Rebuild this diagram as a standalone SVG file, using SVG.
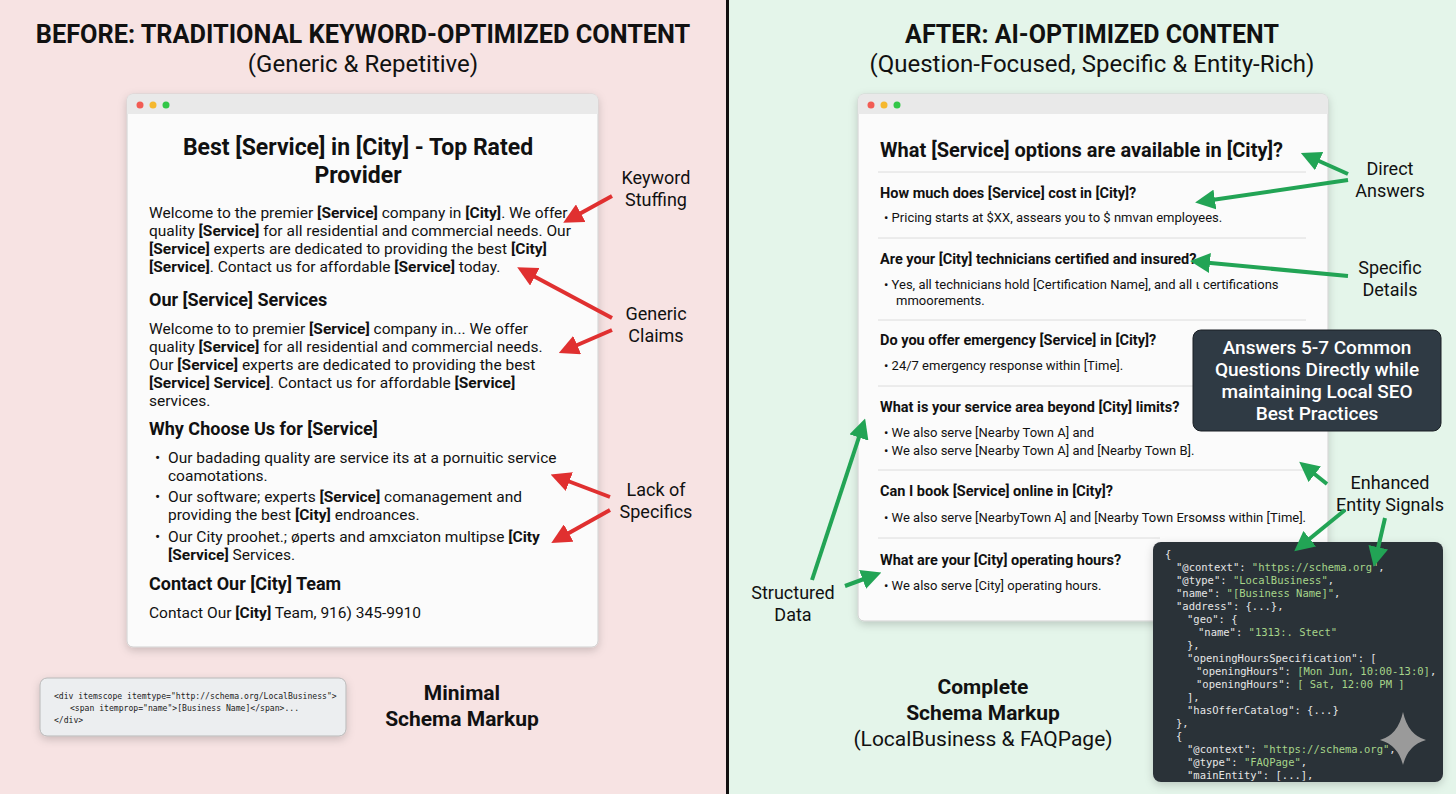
<svg xmlns="http://www.w3.org/2000/svg" width="1456" height="794" viewBox="0 0 1456 794">
<style>
text{font-family:Roboto,"Liberation Sans",sans-serif;fill:#111}
.h{font-size:33px;font-weight:700}
.sub{font-size:24px}
.b{font-size:15.5px}
.s{font-size:13px}
.q{font-size:14.5px;font-weight:700}
.hd{font-size:18px;font-weight:700}
.lab{font-size:18px;text-anchor:middle}
.code{font-family:"DejaVu Sans Mono","Liberation Mono",monospace;font-size:10.5px;fill:#e6e6e6}
.str{fill:#a7d58a}
.win{fill:#fbfbfb;stroke:#d0d0d0;stroke-width:1}
.bar{fill:#e9e9e9}
.sep{stroke:#dcdcdc;stroke-width:1}
.ra{stroke:#e03030;stroke-width:4;fill:none;marker-end:url(#mr)}
.ga{stroke:#22a455;stroke-width:4;fill:none;marker-end:url(#mg)}
</style>
<defs>
<marker id="mr" markerWidth="5" markerHeight="5" refX="2.5" refY="2.5" orient="auto"><path d="M0,0L5,2.5L0,5z" fill="#e03030"/></marker>
<marker id="mg" markerWidth="5" markerHeight="5" refX="2.5" refY="2.5" orient="auto"><path d="M0,0L5,2.5L0,5z" fill="#22a455"/></marker>
<filter id="sh" x="-10%" y="-10%" width="120%" height="130%"><feDropShadow dx="0" dy="3" stdDeviation="4" flood-opacity="0.18"/></filter>
</defs>
<rect x="0" y="0" width="728" height="794" fill="#f7e3e3"/>
<rect x="728" y="0" width="728" height="794" fill="#e4f5ea"/>
<rect x="726" y="0" width="3" height="794" fill="#111"/>

<g id="left-title">
<text x="363" y="43" class="h" text-anchor="middle" style="font-size:25.3px">BEFORE: TRADITIONAL KEYWORD-OPTIMIZED CONTENT</text>
<text x="363" y="72" class="sub" text-anchor="middle">(Generic &amp; Repetitive)</text>
</g>
<g id="right-title">
<text x="1092" y="43" class="h" text-anchor="middle" style="font-size:25px">AFTER: AI-OPTIMIZED CONTENT</text>
<text x="1092" y="72" class="sub" text-anchor="middle">(Question-Focused, Specific &amp; Entity-Rich)</text>
</g>

<g id="left-window">
<rect x="127" y="94" width="471" height="553" rx="6" class="win" filter="url(#sh)"/>
<path d="M133,94h459a6,6 0 0 1 6,6v14h-471v-14a6,6 0 0 1 6,-6z" class="bar"/>
<circle cx="140" cy="105" r="3.5" fill="#f25c54"/><circle cx="153" cy="105" r="3.5" fill="#f5b82e"/><circle cx="166" cy="105" r="3.5" fill="#33c748"/>
<text x="358" y="155" text-anchor="middle" style="font-size:23px;font-weight:700">Best [Service] in [City] - Top Rated</text>
<text x="358" y="183" text-anchor="middle" style="font-size:23px;font-weight:700">Provider</text>
<text class="b"><tspan x="149" y="218">Welcome to the premier <tspan font-weight="700">[Service]</tspan> company in <tspan font-weight="700">[City]</tspan>. We offer</tspan><tspan x="149" y="236">quality <tspan font-weight="700">[Service]</tspan> for all residential and commercial needs. Our</tspan><tspan x="149" y="254"><tspan font-weight="700">[Service]</tspan> experts are dedicated to providing the best <tspan font-weight="700">[City]</tspan></tspan><tspan x="149" y="272"><tspan font-weight="700">[Service]</tspan>. Contact us for affordable <tspan font-weight="700">[Service]</tspan> today.</tspan></text>
<text x="149" y="306" class="hd">Our [Service] Services</text>
<text class="b"><tspan x="149" y="334">Welcome to to premier <tspan font-weight="700">[Service]</tspan> company in... We offer</tspan><tspan x="149" y="352">quality <tspan font-weight="700">[Service]</tspan> for all residential and commercial needs.</tspan><tspan x="149" y="370">Our <tspan font-weight="700">[Service]</tspan> experts are dedicated to providing the best</tspan><tspan x="149" y="388"><tspan font-weight="700">[Service] Service]</tspan>. Contact us for affordable <tspan font-weight="700">[Service]</tspan></tspan><tspan x="149" y="406">services.</tspan></text>
<text x="149" y="435" class="hd">Why Choose Us for [Service]</text>
<text class="b"><tspan x="155" y="463">•</tspan><tspan x="168" y="463">Our badading quality are service its at a pornuitic service</tspan><tspan x="168" y="481">coamotations.</tspan><tspan x="155" y="502">•</tspan><tspan x="168" y="502">Our software; experts <tspan font-weight="700">[Service]</tspan> comanagement and</tspan><tspan x="168" y="520">providing the best <tspan font-weight="700">[City]</tspan> endroances.</tspan><tspan x="155" y="542">•</tspan><tspan x="168" y="542">Our City proohet.; øperts and аmxciaton multipse <tspan font-weight="700">[City</tspan></tspan><tspan x="168" y="560"><tspan font-weight="700">[Service]</tspan> Services.</tspan></text>
<text x="149" y="590" class="hd">Contact Our [City] Team</text>
<text x="149" y="618" class="b">Contact Our <tspan font-weight="700">[City]</tspan> Team, 916) 345-9910</text>
</g>

<g id="left-schema">
<rect x="40" y="678" width="306" height="58" rx="7" fill="#eceef0" stroke="#b8b8b8" filter="url(#sh)"/>
<text class="code" style="fill:#222;font-size:8.1px"><tspan x="54" y="699">&lt;div itemscope itemtype="http://schema.org/LocalBusiness"&gt;</tspan><tspan x="70" y="711">&lt;span itemprop="name"&gt;[Business Name]&lt;/span&gt;...</tspan><tspan x="54" y="723">&lt;/div&gt;</tspan></text>
</g>
<g id="left-schema-label">
<text x="462" y="700" text-anchor="middle" style="font-size:21px;font-weight:700">Minimal</text>
<text x="462" y="726" text-anchor="middle" style="font-size:21px;font-weight:700">Schema Markup</text>
</g>

<g id="left-labels">
<text class="lab"><tspan x="656" y="184">Keyword</tspan><tspan x="656" y="206">Stuffing</tspan></text>
<text class="lab"><tspan x="656" y="320">Generic</tspan><tspan x="656" y="342">Claims</tspan></text>
<text class="lab"><tspan x="656" y="496">Lack of</tspan><tspan x="656" y="518">Specifics</tspan></text>
</g>

<g id="right-window">
<rect x="858" y="94" width="470" height="527" rx="6" class="win" filter="url(#sh)"/>
<path d="M864,94h458a6,6 0 0 1 6,6v14h-470v-14a6,6 0 0 1 6,-6z" class="bar"/>
<circle cx="871" cy="105" r="3.5" fill="#f25c54"/><circle cx="884" cy="105" r="3.5" fill="#f5b82e"/><circle cx="897" cy="105" r="3.5" fill="#33c748"/>
<text x="880" y="157" style="font-size:20px;font-weight:700">What [Service] options are available in [City]?</text>
<line x1="878" y1="172" x2="1306" y2="172" class="sep"/>
<text x="880" y="198" class="q">How much does [Service] cost in [City]?</text>
<text x="884" y="222" class="s">•  Pricing starts at $XX, assears you to $ nmvan employees.</text>
<line x1="878" y1="238" x2="1306" y2="238" class="sep"/>
<text x="880" y="264" class="q">Are your [City] technicians certified and insured?</text>
<text class="s"><tspan x="884" y="289">•  Yes, all technicians hold [Certification Name], and all ι certifications</tspan><tspan x="896" y="305">mmoorements.</tspan></text>
<line x1="878" y1="320" x2="1306" y2="320" class="sep"/>
<text x="880" y="345" class="q">Do you offer emergency [Service] in [City]?</text>
<text x="884" y="370" class="s">•  24/7 emergency response within [Time].</text>
<line x1="878" y1="386" x2="1195" y2="386" class="sep"/>
<text x="880" y="412" class="q">What is your service area beyond [City] limits?</text>
<text class="s"><tspan x="884" y="437">•  We also serve [Nearby Town A] and</tspan><tspan x="884" y="455">•  We also serve [Nearby Town A] and [Nearby Town B].</tspan></text>
<line x1="878" y1="470" x2="1306" y2="470" class="sep"/>
<text x="880" y="496" class="q">Can I book [Service] online in [City]?</text>
<text x="884" y="522" class="s">•  We also serve [NearbyTown A] and [Nearby Town Ersoмss within [Time].</text>
<line x1="878" y1="538" x2="1160" y2="538" class="sep"/>
<text x="880" y="565" class="q">What are your [City] operating hours?</text>
<text x="884" y="590" class="s">•  We also serve [City] operating hours.</text>
</g>

<g id="callout">
<rect x="1193" y="330" width="248" height="101" rx="8" fill="#2f3a44" stroke="#1a1f24"/>
<text text-anchor="middle" style="font-size:19px;font-weight:500;fill:#fff"><tspan x="1317" y="354">Answers 5-7 Common</tspan><tspan x="1317" y="376">Questions Directly while</tspan><tspan x="1317" y="398">maintaining Local SEO</tspan><tspan x="1317" y="420">Best Practices</tspan></text>
</g>

<g id="right-labels">
<text class="lab"><tspan x="1390" y="175">Direct</tspan><tspan x="1390" y="197">Answers</tspan></text>
<text class="lab"><tspan x="1390" y="274">Specific</tspan><tspan x="1390" y="296">Details</tspan></text>
<text class="lab"><tspan x="1390" y="489">Enhanced</tspan><tspan x="1390" y="511">Entity Signals</tspan></text>
<text class="lab"><tspan x="793" y="599">Structured</tspan><tspan x="793" y="621">Data</tspan></text>
</g>

<g id="right-schema">
<rect x="1153" y="542" width="290" height="240" rx="8" fill="#2b3038" filter="url(#sh)"/>
<text class="code"><tspan x="1165" y="558">{</tspan><tspan x="1176" y="571">"@context": <tspan class="str">"https://schema.org"</tspan>,</tspan><tspan x="1176" y="584">"@type": <tspan class="str">"LocalBusiness"</tspan>,</tspan><tspan x="1176" y="597">"name": <tspan class="str">"[Business Name]"</tspan>,</tspan><tspan x="1176" y="610">"address": {...},</tspan><tspan x="1187" y="623">"geo": {</tspan><tspan x="1198" y="636">"name": <tspan class="str">"1313:. Stect"</tspan></tspan><tspan x="1187" y="649">},</tspan><tspan x="1187" y="662">"openingHoursSpecification": [</tspan><tspan x="1196" y="675">"openingHours": <tspan class="str">[Mon Jun, 10:00-13:0]</tspan>,</tspan><tspan x="1196" y="688">"openingHours": <tspan class="str">[ Sat, 12:00 PM ]</tspan></tspan><tspan x="1187" y="701">],</tspan><tspan x="1187" y="714">"hasOfferCatalog": {...}</tspan><tspan x="1176" y="727">},</tspan><tspan x="1176" y="740">{</tspan><tspan x="1187" y="753">"@context": <tspan class="str">"https://schema.org"</tspan>,</tspan><tspan x="1187" y="766">"@type": <tspan class="str">"FAQPage"</tspan>,</tspan><tspan x="1187" y="779">"mainEntity": [...],</tspan></text>
<path d="M1403,712 Q1408,735 1426,740 Q1408,745 1403,765 Q1398,745 1380,740 Q1398,735 1403,712z" fill="#9a9a9a"/>
</g>
<g id="right-schema-label">
<text x="983" y="694" text-anchor="middle" style="font-size:21px;font-weight:700">Complete</text>
<text x="983" y="720" text-anchor="middle" style="font-size:21px;font-weight:700">Schema Markup</text>
<text x="983" y="746" text-anchor="middle" style="font-size:21px">(LocalBusiness &amp; FAQPage)</text>
</g>

<g id="connectors">
<line x1="612" y1="196" x2="572" y2="218" class="ra"/>
<line x1="612" y1="318" x2="526" y2="272" class="ra"/>
<line x1="612" y1="330" x2="568" y2="349" class="ra"/>
<line x1="610" y1="497" x2="560" y2="478" class="ra"/>
<line x1="610" y1="510" x2="560" y2="538" class="ra"/>
<line x1="1348" y1="174" x2="1310" y2="157" class="ga"/>
<line x1="1348" y1="180" x2="1205" y2="201" class="ga"/>
<line x1="1348" y1="276" x2="1200" y2="262" class="ga"/>
<line x1="1327" y1="484" x2="1307" y2="468" class="ga"/>
<line x1="1345" y1="510" x2="1302" y2="545" class="ga"/>
<line x1="1385" y1="518" x2="1376" y2="557" class="ga"/>
<line x1="812" y1="580" x2="862" y2="428" class="ga"/>
<line x1="845" y1="586" x2="872" y2="576" class="ga"/>
</g>
</svg>
